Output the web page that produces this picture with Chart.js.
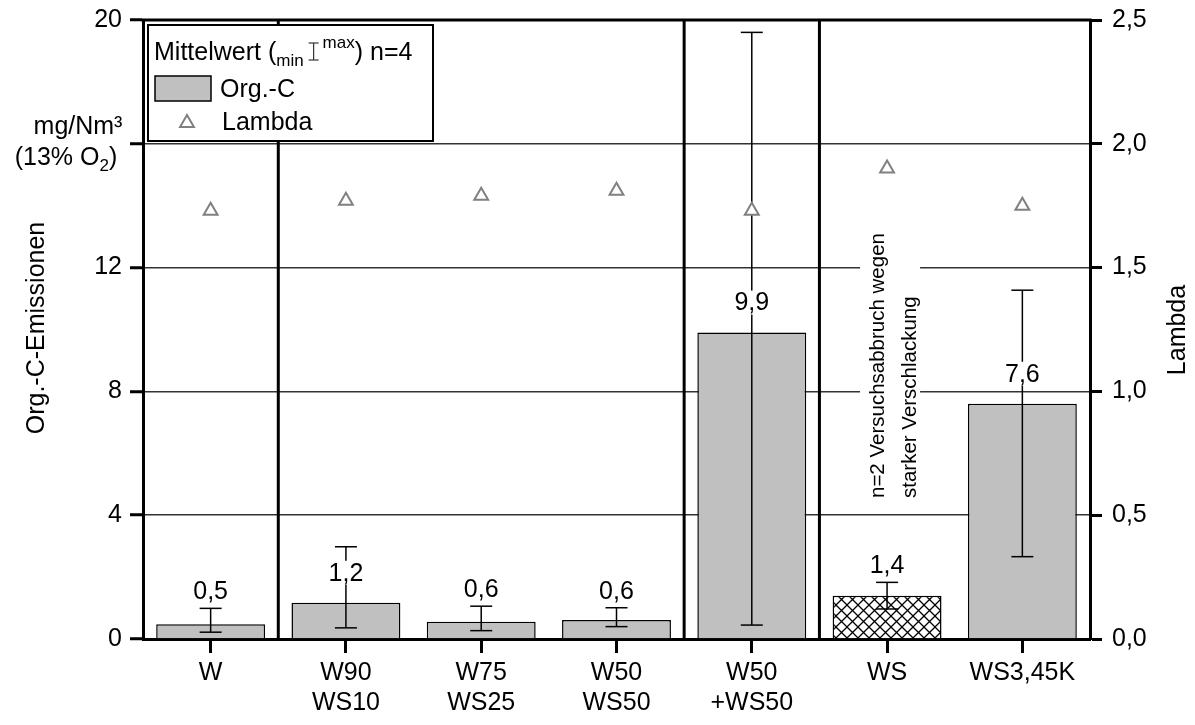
<!DOCTYPE html>
<html><head><meta charset="utf-8">
<script src="https://cdn.jsdelivr.net/npm/chart.js@4/dist/chart.umd.min.js"></script>
<style>html,body{margin:0;padding:0;background:#fff}#wrap{width:1195px;height:725px;position:relative}</style>
</head><body><div id="wrap"><canvas id="c"></canvas></div>
<script>
// ---- data ----
const categories = [['W'], ['W90','WS10'], ['W75','WS25'], ['W50','WS50'], ['W50','+WS50'], ['WS'], ['WS3,45K']];
const orgC    = [0.48, 1.17, 0.56, 0.61, 9.9, 1.40, 7.6];
const orgCMin = [0.22, 0.36, 0.27, 0.40, 0.45, 0.97, 2.66];
const orgCMax = [0.99, 2.98, 1.06, 1.01, 19.6, 1.83, 11.27];
const lambda  = [1.73, 1.77, 1.79, 1.81, 1.73, 1.90, 1.75];
const leftTicks = [0, 4, 8, 12, 16, 20];
const leftTickLabels = ['0', '4', '8', '12', '', '20'];
const rightTicks = [0, 0.5, 1.0, 1.5, 2.0, 2.5];
const groupBreaks = [1, 4, 5];          // separator before these category indices
const abortedCategory = 5;              // WS: hatched bar + note
const noteLines = ['n=2 Versuchsabbruch wegen', 'starker Verschlackung'];

const FONT = '"Liberation Sans", Arial, sans-serif';
const FS = 25;
const fmt = v => v.toFixed(1).replace('.', ',');

function hatch() {
  const s = 11, c = document.createElement('canvas');
  c.width = s; c.height = s;
  const g = c.getContext('2d');
  g.fillStyle = '#fff'; g.fillRect(0, 0, s, s);
  g.strokeStyle = '#000'; g.lineWidth = 1.3;
  g.beginPath();
  g.moveTo(-1, -1); g.lineTo(s + 1, s + 1);
  g.moveTo(s + 1, -1); g.lineTo(-1, s + 1);
  g.stroke();
  return g.createPattern(c, 'repeat');
}
const barColors = orgC.map((_, i) => i === abortedCategory ? hatch() : '#c0c0c0');

function line(ctx, x1, y1, x2, y2) { ctx.beginPath(); ctx.moveTo(x1, y1); ctx.lineTo(x2, y2); ctx.stroke(); }

const decor = {
  id: 'decor',
  beforeDatasetsDraw(chart) {
    const { ctx, chartArea: a, scales: { x } } = chart;
    ctx.save();
    const cx = x.getPixelForValue(abortedCategory);
    ctx.font = '20.5px ' + FONT;
    const w = Math.max(...noteLines.map(t => ctx.measureText(t).width));
    const yStart = a.bottom - 141;
    ctx.fillStyle = '#fff';
    ctx.fillRect(cx - 27, yStart - w - 6, 60, w + 12);
    ctx.fillStyle = '#000';
    ctx.translate(cx + 4, yStart);
    ctx.rotate(-Math.PI / 2);
    ctx.textAlign = 'left'; ctx.textBaseline = 'middle';
    noteLines.forEach((t, i) => ctx.fillText(t, 0, -13 + i * 32));
    ctx.restore();
    ctx.save();
    ctx.strokeStyle = '#000'; ctx.lineWidth = 3;
    groupBreaks.forEach(i => {
      const px = (x.getPixelForValue(i - 1) + x.getPixelForValue(i)) / 2;
      line(ctx, px, a.top, px, a.bottom);
    });
    ctx.restore();
  },
  afterDatasetDraw(chart, args) {
    if (args.index !== 0) return;
    const { ctx, scales: { x, y } } = chart;
    ctx.save();
    ctx.strokeStyle = '#000'; ctx.lineWidth = 1.5;
    orgC.forEach((v, i) => {
      const px = x.getPixelForValue(i);
      const y1 = y.getPixelForValue(orgCMin[i]), y2 = y.getPixelForValue(orgCMax[i]);
      line(ctx, px, y1, px, y2);
      line(ctx, px - 11, y1, px + 11, y1);
      line(ctx, px - 11, y2, px + 11, y2);
    });
    ctx.font = FS + 'px ' + FONT;
    ctx.textAlign = 'center'; ctx.textBaseline = 'middle';
    orgC.forEach((v, i) => {
      const px = x.getPixelForValue(i);
      const top = y.getPixelForValue(v), emax = y.getPixelForValue(orgCMax[i]);
      const cy = (emax < top - 45) ? top - 30 : emax - 17;
      const t = fmt(v), tw = ctx.measureText(t).width;
      ctx.fillStyle = '#fff';
      ctx.fillRect(px - tw / 2 - 2, cy - 12, tw + 4, 24);
      ctx.fillStyle = '#000';
      ctx.fillText(t, px, cy + 1);
    });
    ctx.restore();
  },
  afterDraw(chart) {
    const { ctx, chartArea: a } = chart;
    ctx.save();
    ctx.strokeStyle = '#000'; ctx.lineWidth = 3;
    line(ctx, a.left - 1.5, a.top, a.right + 1.5, a.top);
    // legend
    const L = a.left + 5, T = a.top + 5;
    ctx.fillStyle = '#fff'; ctx.fillRect(L, T, 285, 116);
    ctx.lineWidth = 2; ctx.strokeRect(L, T, 285, 116);
    ctx.fillStyle = '#000'; ctx.textBaseline = 'alphabetic'; ctx.textAlign = 'left';
    let cx = L + 6; const base = T + 35;
    const put = (t, f, yy) => { ctx.font = f; ctx.fillText(t, cx, yy); cx += ctx.measureText(t).width; };
    put('Mittelwert (', FS + 'px ' + FONT, base);
    put('min', '17px ' + FONT, base + 6);
    cx += 3;
    ctx.lineWidth = 1.2; ctx.strokeStyle = '#333';
    line(ctx, cx + 7, base - 17, cx + 7, base); line(ctx, cx + 2, base - 17, cx + 12, base - 17); line(ctx, cx + 2, base, cx + 12, base);
    cx += 16;
    put('max', '17px ' + FONT, base - 12);
    put(') n=4', FS + 'px ' + FONT, base);
    ctx.fillStyle = '#c0c0c0'; ctx.fillRect(L + 7, T + 51, 56, 25);
    ctx.strokeStyle = '#000'; ctx.lineWidth = 1.5; ctx.strokeRect(L + 7, T + 51, 56, 25);
    ctx.fillStyle = '#000'; ctx.font = FS + 'px ' + FONT;
    ctx.fillText('Org.-C', L + 72, T + 72);
    ctx.fillText('Lambda', L + 74, T + 105);
    const tx = L + 39, ty = T + 98, r = 8;
    ctx.strokeStyle = '#808080'; ctx.lineWidth = 2; ctx.fillStyle = '#fff';
    ctx.beginPath();
    for (let k = 0; k < 3; k++) { const ang = k * 2 * Math.PI / 3; const px = tx + Math.sin(ang) * r, py = ty - Math.cos(ang) * r; k ? ctx.lineTo(px, py) : ctx.moveTo(px, py); }
    ctx.closePath(); ctx.fill(); ctx.stroke();
    // axis titles
    ctx.fillStyle = '#000'; ctx.font = FS + 'px ' + FONT; ctx.textAlign = 'center'; ctx.textBaseline = 'middle';
    ctx.fillText('mg/Nm³', 78, 127);
    ctx.textAlign = 'left';
    const p1 = '(13% O', p3 = ')';
    ctx.font = FS + 'px ' + FONT; const w1 = ctx.measureText(p1).width, w3 = ctx.measureText(p3).width;
    ctx.font = '17px ' + FONT; const w2 = ctx.measureText('2').width;
    let sx = 66 - (w1 + w2 + w3) / 2;
    ctx.font = FS + 'px ' + FONT; ctx.fillText(p1, sx, 158); sx += w1;
    ctx.font = '17px ' + FONT; ctx.fillText('2', sx, 166); sx += w2;
    ctx.font = FS + 'px ' + FONT; ctx.fillText(p3, sx, 158);
    ctx.textAlign = 'center';
    ctx.save(); ctx.translate(37, 328); ctx.rotate(-Math.PI / 2); ctx.fillText('Org.-C-Emissionen', 0, 0); ctx.restore();
    ctx.save(); ctx.translate(1178, 330); ctx.rotate(-Math.PI / 2); ctx.fillText('Lambda', 0, 0); ctx.restore();
    ctx.restore();
  }
};

const noPad = s => { s.paddingTop = 0; s.paddingBottom = 0; };

new Chart(document.getElementById('c'), {
  type: 'bar',
  data: {
    labels: categories,
    datasets: [
      { type: 'bar', label: 'Org.-C', data: orgC, yAxisID: 'y', order: 2,
        backgroundColor: barColors, borderColor: '#000', borderWidth: 1.5,
        barPercentage: 0.805, categoryPercentage: 1 },
      { type: 'line', label: 'Lambda', data: lambda, yAxisID: 'y1', order: 1, showLine: false,
        pointStyle: 'triangle', pointRadius: 8, pointHoverRadius: 8, borderWidth: 2,
        borderColor: '#808080', backgroundColor: '#fff', pointBackgroundColor: '#fff' }
    ]
  },
  options: {
    responsive: true, maintainAspectRatio: false, animation: false,
    layout: { padding: { top: 20, left: 0, right: 0, bottom: 0 } },
    plugins: { legend: { display: false }, tooltip: { enabled: false } },
    scales: {
      x: {
        afterFit: s => { s.height = 86; s.paddingLeft = 0; s.paddingRight = 0; },
        grid: { display: true, offset: false, drawOnChartArea: false, drawTicks: true, tickLength: 14, tickWidth: 3, tickColor: '#000' },
        border: { display: true, color: '#000', width: 3 },
        ticks: { color: '#000', font: { family: FONT, size: FS, lineHeight: 1.2 }, padding: 5, maxRotation: 0, autoSkip: false }
      },
      y: {
        position: 'left', min: 0, max: 20,
        afterFit: s => { s.width = 143; noPad(s); },
        afterBuildTicks: s => { s.ticks = leftTicks.map(v => ({ value: v })); },
        grid: { color: '#333', lineWidth: 1.5, tickLength: 13, tickWidth: 3, tickColor: '#000' },
        border: { display: true, color: '#000', width: 3 },
        ticks: { color: '#000', font: { family: FONT, size: FS }, padding: 8,
                 callback: v => leftTickLabels[leftTicks.indexOf(v)] }
      },
      y1: {
        position: 'right', min: 0, max: 2.5,
        afterFit: s => { s.width = 105; noPad(s); },
        afterBuildTicks: s => { s.ticks = rightTicks.map(v => ({ value: v })); },
        grid: { drawOnChartArea: false, tickLength: 12, tickWidth: 3, tickColor: '#000' },
        border: { display: true, color: '#000', width: 3 },
        ticks: { color: '#000', font: { family: FONT, size: FS }, padding: 10, callback: v => fmt(v) }
      }
    }
  },
  plugins: [decor]
});
</script></body></html>
